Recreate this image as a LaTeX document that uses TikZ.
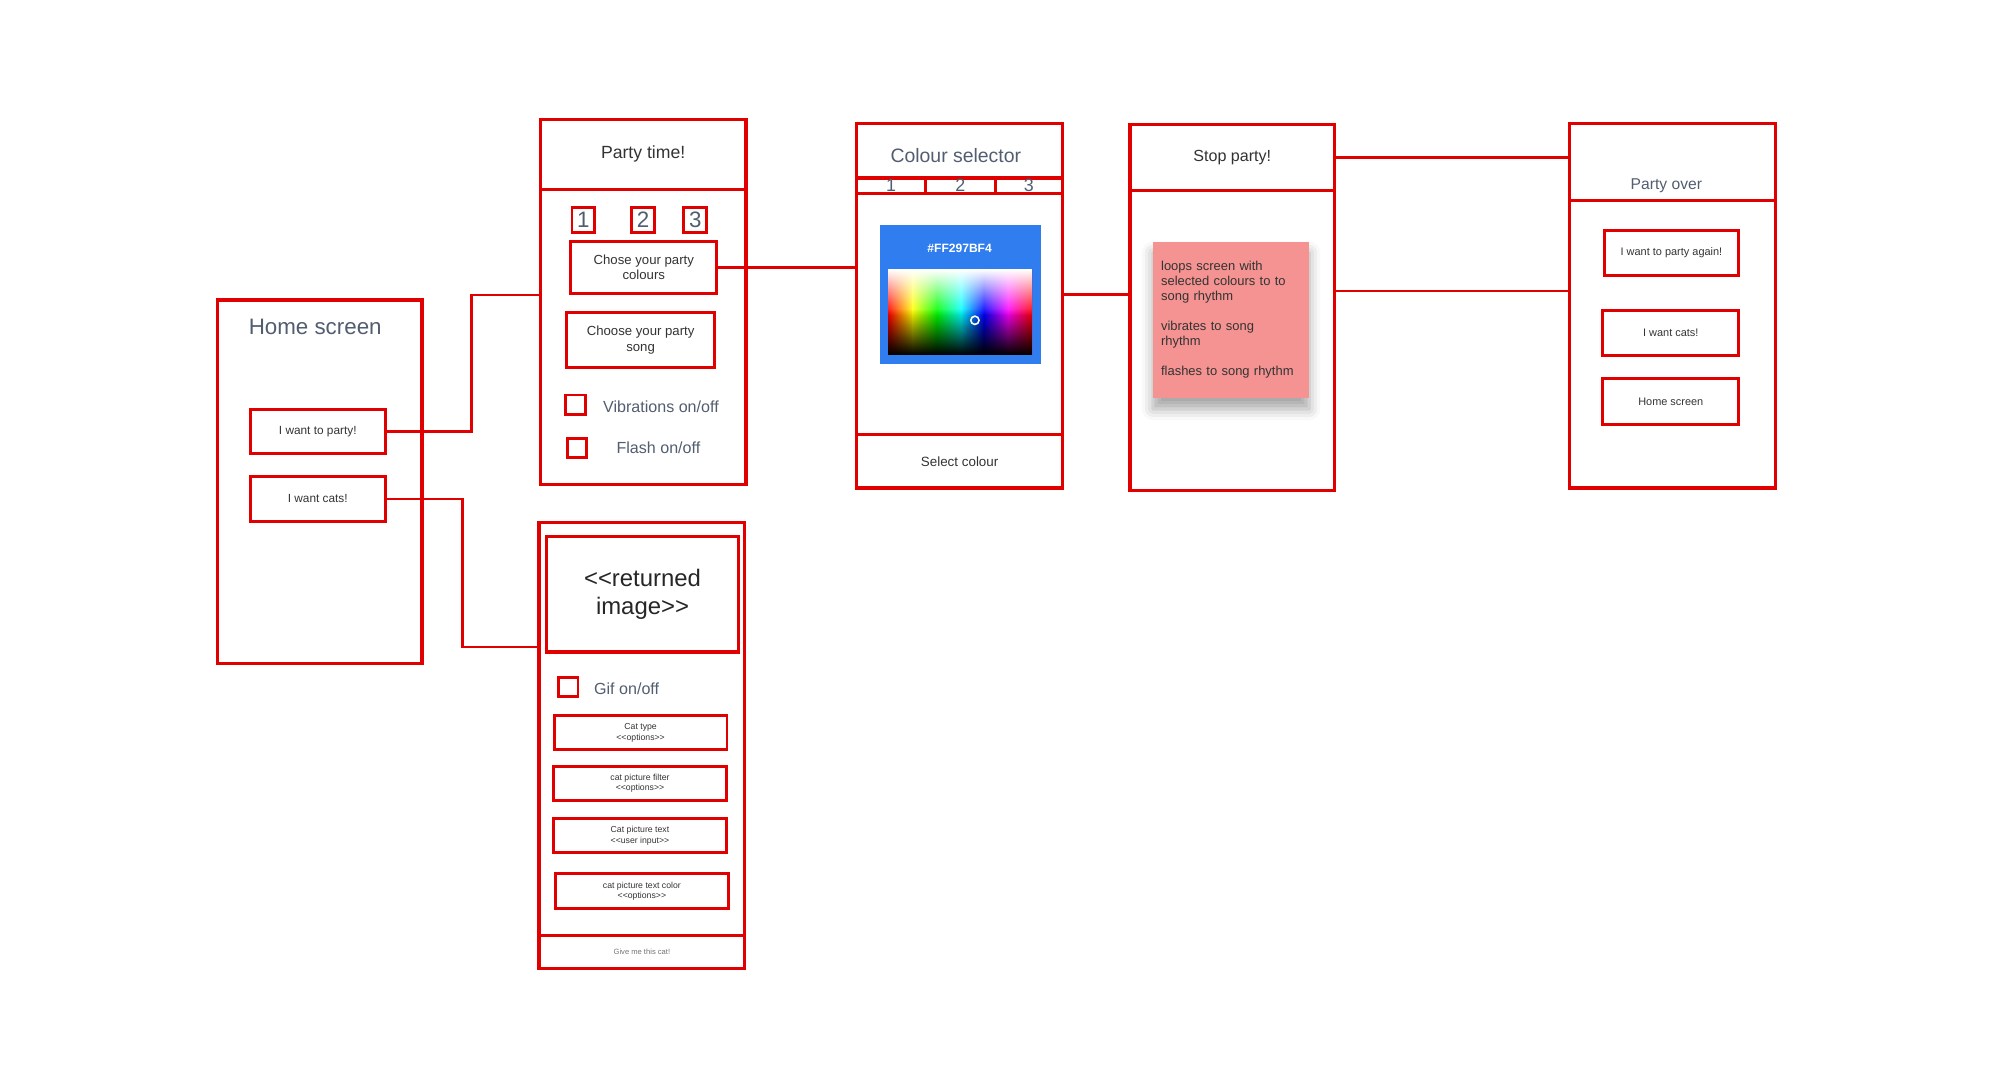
\documentclass[tikz,border=0pt]{standalone}
\usepackage{fontspec}
\setmainfont{Liberation Sans}
\usetikzlibrary{fadings,shadows.blur}

\definecolor{wirered}{HTML}{E00000}
\definecolor{slate}{HTML}{525D70}
\definecolor{inktext}{HTML}{333333}
\definecolor{pickerblue}{HTML}{2F7DEE}
\definecolor{notepink}{HTML}{F49391}

\tikzfading[name=fadewhite, top color=transparent!0, bottom color=transparent!100]
\tikzfading[name=fadeblack, top color=transparent!100, bottom color=transparent!0]

\newcommand\lchev{<\kern0pt<}
\newcommand\rchev{>\kern0pt>}

\tikzset{
  screen/.style={draw=wirered, line width=1.5pt, inner sep=0pt},
  button/.style={draw=wirered, line width=1.3pt, inner sep=0pt, align=center, text=inktext, font=\fontsize{5.3}{6.4}\selectfont},
  optbox/.style={draw=wirered, line width=1.3pt, inner sep=0pt, align=center, text=inktext, minimum width=2.72cm, minimum height=0.54cm, font=\fontsize{3.9}{4.6}\selectfont},
  numbox/.style={draw=wirered, line width=1.3pt, inner sep=0pt, minimum width=0.36cm, minimum height=0.40cm, text=slate, font=\fontsize{10}{12}\selectfont},
  check/.style={draw=wirered, line width=1.3pt, inner sep=0pt, minimum size=0.31cm},
  tab/.style={draw=wirered, line width=1.3pt, inner sep=0pt, minimum height=0.24cm, text=slate, font=\fontsize{8}{8}\selectfont},
  title/.style={text=slate, font=\fontsize{10}{12}\selectfont},
  opttext/.style={text=slate, font=\fontsize{7.2}{8}\selectfont},
  link/.style={draw=wirered, line width=1.2pt},
  hex/.style={text=white, font=\bfseries\fontsize{5.4}{6}\selectfont},
  sticky/.style={fill=notepink, inner sep=0pt, text=inktext, align=left, text width=2.2cm,
    font=\fontsize{5.8}{6.6}\selectfont,
    blur shadow={shadow xshift=0pt, shadow yshift=-5pt, shadow blur radius=5pt, shadow opacity=35}}
}

\begin{document}
\begin{tikzpicture}[x=0.02cm,y=-0.02cm]
\useasboundingbox (0,0) rectangle (1568,855);

\node[screen, minimum width=3.22cm, minimum height=5.72cm] (home) at (251.5,379) {};
\node[title] (hometitle) at (248,257) {Home screen};
\node[button, minimum width=2.12cm, minimum height=0.70cm] (btnparty) at (250,339.5) {I want to party!};
\node[button, minimum width=2.12cm, minimum height=0.70cm] (btncats) at (250,392.5) {I want cats!};

\node[screen, minimum width=3.24cm, minimum height=5.74cm] (party) at (506,237.5) {};
\node[screen, minimum width=3.24cm, minimum height=1.10cm, text=inktext, font=\fontsize{7.9}{9}\selectfont] (partyhead) at (506,121.5) {Party time!};
\node[numbox] (num1) at (459,173) {1};
\node[numbox] (num2) at (506,173) {2};
\node[numbox] (num3) at (547,173) {3};
\node[button, minimum width=2.30cm, minimum height=0.82cm, font=\fontsize{5.9}{6.9}\selectfont] (btncol) at (506.5,210.5) {Chose your party\\colours};
\node[button, minimum width=2.32cm, minimum height=0.86cm, font=\fontsize{5.9}{6.9}\selectfont] (btnsong) at (504,267.5) {Choose your party\\song};
\node[check] (chkvib) at (453,318.5) {};
\node[opttext] (vibtext) at (520,320) {Vibrations on/off};
\node[check] (chkflash) at (454,352.5) {};
\node[opttext] (flashtext) at (518,352) {Flash on/off};

\node[screen, minimum width=3.24cm, minimum height=5.74cm] (colsel) at (755,240.5) {};
\node[screen, minimum width=3.24cm, minimum height=0.86cm] (colhead) at (755,118.5) {};
\node[title, font=\fontsize{8.7}{10}\selectfont] (coltitle) at (752,122) {Colour selector};
\node[tab, minimum width=1.08cm] (tab1) at (701,146) {1};
\node[tab, minimum width=1.10cm] (tab2) at (755.5,146) {2};
\node[tab, minimum width=1.06cm] (tab3) at (809.5,146) {3};
\node[fill=pickerblue, inner sep=0pt, minimum width=2.54cm, minimum height=2.18cm] (picker) at (755.5,231.5) {};
\node[hex] (hextext) at (755,195) {\#FF297BF4};
\shade[left color=red, right color=yellow] (699,212) rectangle (718,279);
\shade[left color=yellow, right color=green] (718,212) rectangle (737,279);
\shade[left color=green, right color=cyan] (737,212) rectangle (756,279);
\shade[left color=cyan, right color=blue] (756,212) rectangle (774,279);
\shade[left color=blue, right color=magenta] (774,212) rectangle (793,279);
\shade[left color=magenta, right color=red] (793,212) rectangle (812,279);
\fill[white, path fading=fadewhite] (699,212) rectangle (812,248);
\fill[black, path fading=fadeblack] (699,243) rectangle (812,279);
\node[draw=white, circle, line width=0.7pt, inner sep=0pt, minimum size=0.13cm] (picked) at (767,252) {};
\node[screen, minimum width=3.24cm, minimum height=0.84cm, text=inktext, font=\fontsize{6}{7}\selectfont] (selectbtn) at (755,363) {Select colour};

\node[screen, minimum width=3.22cm, minimum height=5.76cm] (stop) at (969.5,242) {};
\node[screen, minimum width=3.22cm, minimum height=1.04cm, text=inktext, font=\fontsize{7.2}{8}\selectfont] (stophead) at (969.5,124) {Stop party!};
\node[sticky, minimum width=2.46cm, minimum height=2.46cm] (note) at (968.5,251.5) {loops screen with\\selected colours to to\\song rhythm\\[7pt]vibrates to song\\rhythm\\[7pt]flashes to song rhythm};

\node[screen, minimum width=3.24cm, minimum height=5.74cm] (over) at (1316,240.5) {};
\node[screen, minimum width=3.24cm, minimum height=1.22cm] (overhead) at (1316,127.5) {};
\node[title, font=\fontsize{7}{8}\selectfont] (overtitle) at (1311,146) {Party over};
\node[button, minimum width=2.12cm, minimum height=0.72cm, font=\fontsize{4.9}{6}\selectfont] (btnagain) at (1315,199) {I want to party again!};
\node[button, minimum width=2.14cm, minimum height=0.72cm, font=\fontsize{4.9}{6}\selectfont] (btncats2) at (1314.5,262) {I want cats!};
\node[button, minimum width=2.14cm, minimum height=0.72cm, font=\fontsize{4.9}{6}\selectfont] (btnhome) at (1314.5,316) {Home screen};

\node[screen, minimum width=3.24cm, minimum height=7.02cm] (cat) at (505,586.5) {};
\node[screen, minimum width=3.02cm, minimum height=1.82cm, align=center, text=black!85, font=\fontsize{10.7}{12.5}\selectfont] (catimg) at (505.5,467.5) {\lchev returned\\image\rchev};
\node[check] (chkgif) at (447,540.5) {};
\node[opttext] (giftext) at (493,542) {Gif on/off};
\node[optbox] (opt1) at (504,576.5) {Cat type\\\lchev options\rchev};
\node[optbox] (opt2) at (503.5,616.5) {cat picture filter\\\lchev options\rchev};
\node[optbox] (opt3) at (503.5,657.5) {Cat picture text\\\lchev user input\rchev};
\node[optbox, minimum height=0.56cm] (opt4) at (505,701) {cat picture text color\\\lchev options\rchev};
\node[screen, minimum width=3.24cm, minimum height=0.52cm, text=black!55, font=\fontsize{3.4}{4}\selectfont] (givebtn) at (505,749) {Give me this cat!};

\draw[link] (btnparty.east) -- ++(67,0) |- ([yshift=0.11cm]party.west);
\draw[link] (btncats.east) -- ++(60,0) |- ([yshift=1.55cm]cat.west);
\draw[link] (btncol.east) -- (btncol.east -| colsel.west);
\draw[link] (picker.east -| colsel.east) -- (picker.east -| stop.west);
\draw[link] (stophead.east) -- (stophead.east -| over.west);
\draw[link] ([yshift=0.26cm]stop.east) -- ([yshift=0.26cm]stop.east -| over.west);
\end{tikzpicture}
\end{document}
